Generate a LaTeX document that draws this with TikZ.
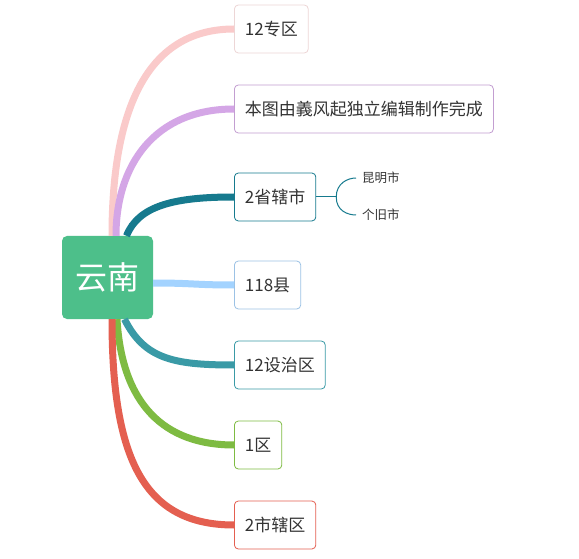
\documentclass[tikz,border=0pt]{standalone}
\usepackage{fontspec}
\setmainfont{Noto Sans CJK SC}
\usepackage{tikz}
\usetikzlibrary{positioning, calc}
\definecolor{rootgreen}{RGB}{77,191,138}
\definecolor{textgray}{RGB}{51,51,51}
\definecolor{linepink}{RGB}{250,202,202}
\definecolor{linepurple}{RGB}{212,166,230}
\definecolor{linedark}{RGB}{22,122,142}
\definecolor{lineblue}{RGB}{163,211,255}
\definecolor{lineteal}{RGB}{58,154,166}
\definecolor{linegreen}{RGB}{126,187,66}
\definecolor{linered}{RGB}{228,95,80}

\tikzset{
  topic/.style={draw=#1, rounded corners=4pt, fill=white, text=textgray,
        font=\fontsize{17}{20}\selectfont, minimum height=48pt,
        inner xsep=10.5pt, anchor=west, line width=0.8pt},
  branch/.style={draw=#1, line width=7pt},
  leaf/.style={text=textgray, font=\fontsize{12.5}{15}\selectfont,
        inner sep=0pt, anchor=west},
  twig/.style={draw=linedark, line width=1pt}
}

\begin{document}
\begin{tikzpicture}[x=1pt, y=-1pt]
  \useasboundingbox[fill=white] (0,0) rectangle (579,559);

  % centre topic
  \node[fill=rootgreen, rounded corners=5pt, minimum width=91pt, minimum height=83pt,
        text=white, font=\fontsize{32}{36}\selectfont] (root) at (107.5,277.5) {云南};

  % main topics
  \node[topic=linepink!80!gray!60] (zq) at (234,29) {12专区};
  \node[topic=linepurple!80!gray] (note) at (234,109) {本图由義风起独立编辑制作完成};
  \node[topic=linedark] (sx) at (234,197) {2省辖市};
  \node[topic=lineblue!80!gray] (xian) at (234,285) {118县};
  \node[topic=lineteal] (szq) at (234,365) {12设治区};
  \node[topic=linegreen] (qu) at (234,445) {1区};
  \node[topic=linered] (sxq) at (234,525) {2市辖区};

  % branches
  \draw[branch=linepink] ([xshift=4.5pt]root.north) .. controls +(0,-130) and +(-85,0) .. (zq.west);
  \draw[branch=linepurple] ([xshift=8.5pt]root.north) .. controls +(0,-70) and +(-80,0) .. (note.west);
  \draw[branch=linedark] ([xshift=19pt]root.north) .. controls +(12,-30) and +(-60,0) .. (sx.west);
  \draw[branch=lineblue] ([yshift=-5.5pt]root.east) .. controls +(40,0) and +(-40,0) .. (xian.west);
  \draw[branch=lineteal] ([xshift=17pt]root.south) .. controls +(20,40) and +(-60,0) .. (szq.west);
  \draw[branch=linegreen] ([xshift=9.5pt]root.south) .. controls +(5,85) and +(-70,0) .. (qu.west);
  \draw[branch=linered] ([xshift=4.5pt]root.south) .. controls +(0,140) and +(-90,0) .. (sxq.west);

  % sub topics of 2省辖市
  \node[leaf] (km) at (362,178) {昆明市};
  \node[leaf] (gj) at (362,215) {个旧市};
  \draw[twig] (sx.east) -- ++(20,0) coordinate (fork);
  \draw[twig] (fork) .. controls +(0,-14) and +(-8,0) .. ([xshift=-6pt]km.west);
  \draw[twig] (fork) .. controls +(0,14) and +(-8,0) .. ([xshift=-6pt]gj.west);
\end{tikzpicture}
\end{document}
